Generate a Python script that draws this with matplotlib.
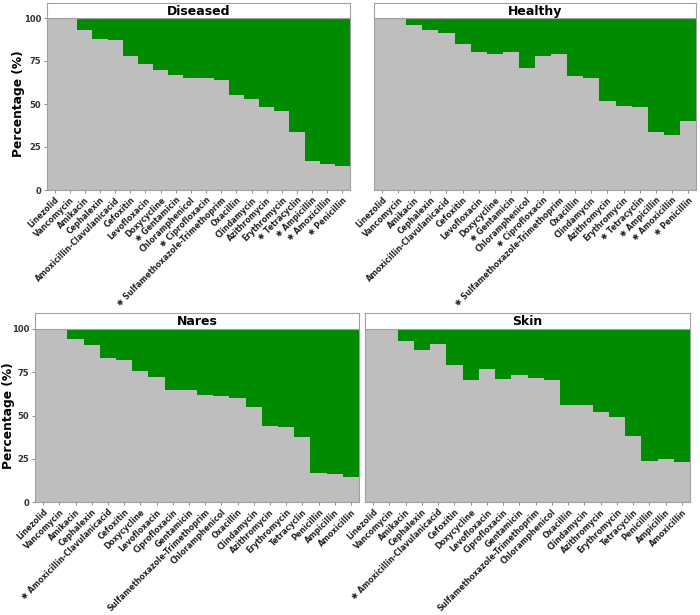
import matplotlib
matplotlib.use("Agg")
import matplotlib.pyplot as plt

# antibiotic order for each panel (asterisk marks significant ones)
STAR = "\u2731 "
drugs_top = ["Linezolid", "Vancomycin", "Amikacin", "Cephalexin",
             "Amoxicillin-Clavulanicacid", "Cefoxitin", "Levofloxacin",
             "Doxycycline", STAR + "Gentamicin", "Chloramphenicol",
             STAR + "Ciprofloxacin", STAR + "Sulfamethoxazole-Trimethoprim",
             "Oxacillin", "Clindamycin", "Azithromycin", "Erythromycin",
             STAR + "Tetracyclin", STAR + "Ampicillin", STAR + "Amoxicillin",
             STAR + "Penicillin"]
drugs_bottom = ["Linezolid", "Vancomycin", "Amikacin", "Cephalexin",
                STAR + "Amoxicillin-Clavulanicacid", "Cefoxitin", "Doxycycline",
                "Levofloxacin", "Ciprofloxacin", "Gentamicin",
                "Sulfamethoxazole-Trimethoprim", "Chloramphenicol", "Oxacillin",
                "Clindamycin", "Azithromycin", "Erythromycin", "Tetracyclin",
                "Penicillin", "Ampicillin", "Amoxicillin"]

# susceptible percentage (grey part); the rest is resistant (green)
diseased = [100, 100, 93, 88, 87, 78, 73, 70, 67, 65,
            65, 64, 55, 53, 48, 46, 34, 17, 15, 14]
healthy = [100, 100, 96, 93, 91, 85, 80, 79, 80, 71,
           78, 79, 66, 65, 52, 49, 48, 34, 32, 40]
nares = [100, 100, 94, 91, 83, 82, 76, 72, 65, 65,
         62, 61, 60, 55, 44, 43.5, 37.5, 17, 16, 14.5]
skin = [100, 100, 93, 88, 91.5, 79, 70.5, 77, 71, 73.5,
        71.5, 70.5, 56, 56, 52, 49, 38, 23.5, 25, 23]

GREY = "#BEBEBE"
GREEN = "#008B00"
EDGE = "#A0A0A0"

W, H = 700, 615
fig = plt.figure(figsize=(7, 6.15), dpi=100)


def px_axes(x0, x1, y0, y1):
    return fig.add_axes([x0 / W, 1 - y1 / H, (x1 - x0) / W, (y1 - y0) / H])


def panel(title, labels, values, box, strip, ylabel_x=None):
    x0, x1, y0, y1 = box
    ax = px_axes(x0, x1, y0, y1)
    pos = list(range(len(values)))
    rest = [100 - v for v in values]
    ax.bar(pos, values, width=1.0, color=GREY, linewidth=0)
    ax.bar(pos, rest, width=1.0, bottom=values, color=GREEN, linewidth=0)
    ax.set_xlim(-0.5, len(values) - 0.5)
    ax.set_ylim(0, 100)
    ax.set_yticks([0, 25, 50, 75, 100])
    ax.set_yticklabels(["0", "25", "50", "75", "100"], fontsize=6,
                       fontweight="bold", color="#333333")
    ax.set_xticks(pos)
    ax.set_xticklabels(labels, rotation=45, ha="right", rotation_mode="anchor",
                       fontsize=5.6, fontweight="bold", color="#222222")
    ax.tick_params(axis="both", length=2.5, width=0.6, color="#777777", pad=1.5)
    for s in ax.spines.values():
        s.set_color(EDGE)
        s.set_linewidth(0.8)
    if ylabel_x is not None:
        fig.text(ylabel_x / W, 1 - (y0 + y1) / 2 / H, "Percentage (%)",
                 rotation=90, ha="center", va="center", fontsize=8.8,
                 fontweight="bold")
    else:
        # right-hand facets share the y axis of the left ones
        ax.tick_params(axis="y", left=False, labelleft=False)

    # facet strip
    sax = px_axes(x0, x1, strip[0], strip[1])
    sax.set_xticks([])
    sax.set_yticks([])
    sax.set_facecolor("white")
    for s in sax.spines.values():
        s.set_color(EDGE)
        s.set_linewidth(0.8)
    sax.text(0.5, 0.45, title, ha="center", va="center", fontsize=9,
             fontweight="bold", transform=sax.transAxes)
    return ax


panel("Diseased", drugs_top, diseased, (47, 350, 18, 190), (3, 18), 19)
panel("Healthy", drugs_top, healthy, (374, 696, 18, 190), (3, 18))
panel("Nares", drugs_bottom, nares, (35, 359, 329, 502), (313, 329), 9)
panel("Skin", drugs_bottom, skin, (365, 690, 329, 502), (313, 329))

fig.savefig("out.png", dpi=100, facecolor="white")
